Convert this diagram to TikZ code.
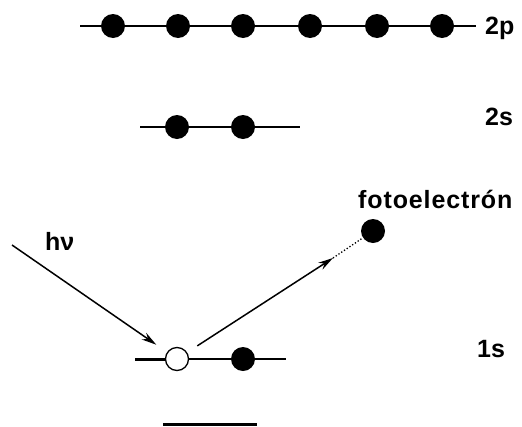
\documentclass[tikz,border=0pt]{standalone}
\usepackage{fontspec}
\setmainfont{Liberation Sans}
\newfontfamily\widefont[LetterSpace=3.5]{Liberation Sans}
\usetikzlibrary{arrows.meta}
\begin{document}
\begin{tikzpicture}[x=1pt,y=-1pt,
  filled/.style={circle,fill=black,inner sep=0pt,minimum size=24pt},
  empty/.style={circle,draw=black,fill=white,line width=1.3pt,inner sep=0pt,minimum size=23pt},
  level/.style={line width=1.3pt},
  lbl/.style={font=\fontsize{25}{25}\selectfont\bfseries,inner sep=0pt,anchor=base west},
  ray/.style={line width=1.5pt,-{Stealth[length=15pt,width=8pt]}}]
\useasboundingbox (0,0) rectangle (522,426);
% 2p
\coordinate (p2a) at (80,26);
\coordinate (p2b) at (476,26);
\draw[level] (p2a) -- (p2b);
\foreach \i/\x in {1/113,2/178,3/243,4/310,5/377,6/442}
  \node[filled] (p\i) at (\x,26) {};
\node[lbl] (t2p) at (485,34) {2p};
% 2s
\coordinate (s2a) at (140,127);
\coordinate (s2b) at (300,127);
\draw[level] (s2a) -- (s2b);
\node[filled] (s1) at (177,127) {};
\node[filled] (s2) at (243,127) {};
\node[lbl] (t2s) at (485,125) {2s};
% 1s
\coordinate (s1a) at (135,359);
\coordinate (s1b) at (286,359);
\draw[level] (s1a) -- (s1b);
\draw[line width=3pt] (s1a) -- (165,359);
\node[empty] (hole) at (177,359) {};
\node[filled] (k2) at (243,359) {};
\node[lbl] (t1s) at (477,357) {1s};
% photoelectron
\node[filled] (pe) at (373,231) {};
\node[lbl,font=\fontsize{25}{25}\selectfont\widefont\bfseries] (tpe) at (358,208) {fotoelectrón};
% photon
\coordinate (ph) at (12,245);
\node[lbl] (thv) at (45,250) {hν};
\draw[ray,shorten >=13pt] (ph) -- (hole);
\coordinate (tip) at (333,258);
\draw[ray,shorten <=12pt] (hole) -- (tip);
\draw[line width=1.3pt,dotted] (tip) -- (pe);
% bottom bar
\coordinate (ba) at (163,424);
\coordinate (bb) at (257,424);
\draw[line width=3pt] (ba) -- (bb);
\end{tikzpicture}
\end{document}
